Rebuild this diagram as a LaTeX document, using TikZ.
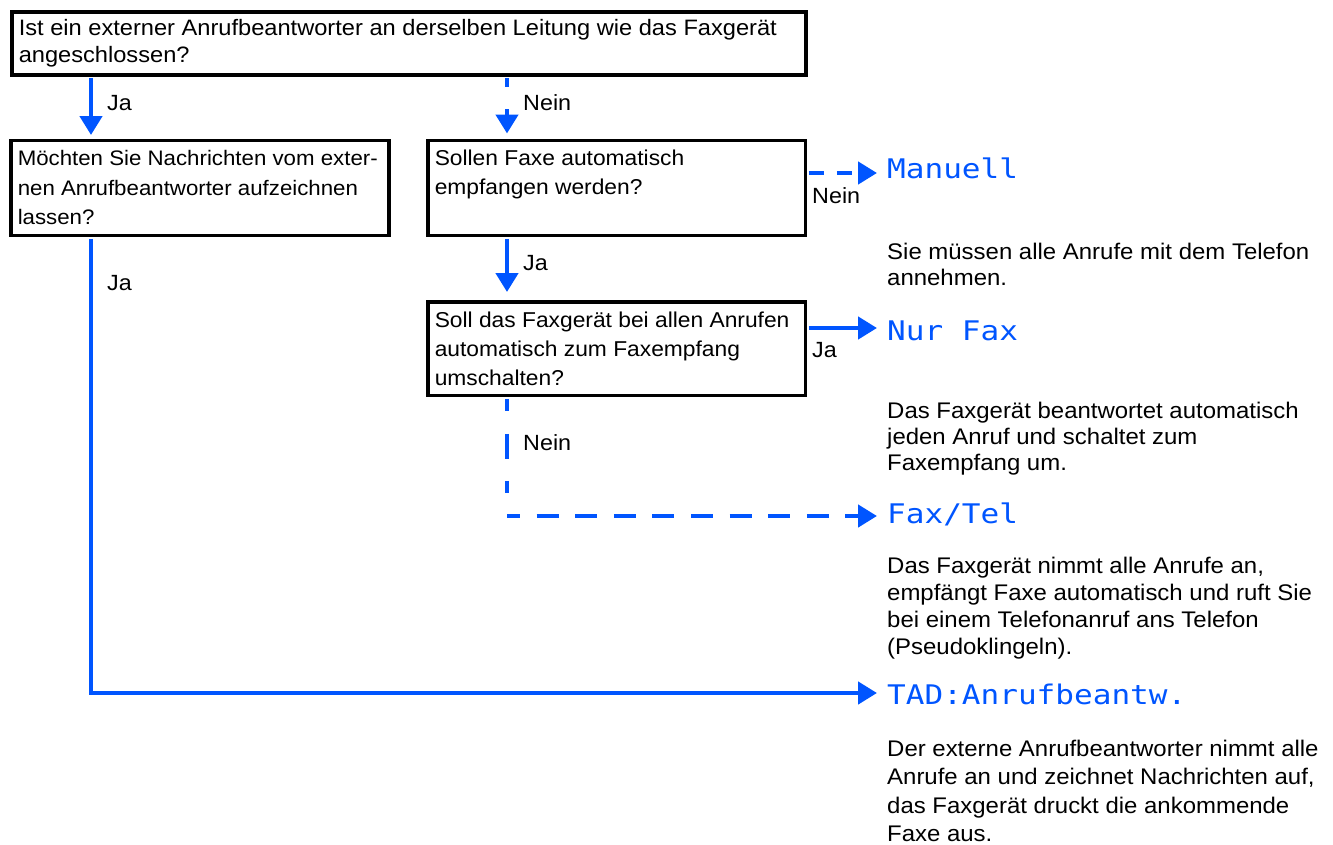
\documentclass[tikz,border=0pt]{standalone}
\usepackage{fontspec}
\setmainfont[FakeStretch=1.06]{Liberation Sans}
\newfontfamily\lcdfont[FakeStretch=1.15]{DejaVu Sans Mono}
\usetikzlibrary{arrows.meta}
\definecolor{fblue}{RGB}{0,85,255}
\newcommand{\qtext}[3]{\parbox[c][#2][t]{#1}{\raggedright\hfuzz=40pt\strut #3}}
\begin{document}
\begin{tikzpicture}[x=1pt,y=-1pt,
  qbox/.style={draw=black, line width=3.5pt, inner xsep=7pt, inner ysep=5pt, anchor=north west},
  boxfont/.style={font=\fontsize{21.5}{29}\selectfont},
  conn/.style={draw=fblue, line width=4.5pt, -{Triangle[length=19pt,width=22pt]}, shorten <=1.75pt},
  plainline/.style={draw=fblue, line width=4.5pt, shorten <=1.75pt},
  lbl/.style={anchor=base west, inner sep=0pt, font=\fontsize{22}{26}\selectfont},
  lcd/.style={anchor=base west, inner xsep=10pt, inner ysep=0pt, text=fblue, font=\lcdfont\fontsize{27}{30}\selectfont},
  desc/.style={anchor=north west, inner sep=0pt, align=left}
]
\useasboundingbox (0,0) rectangle (1333,844);

% question boxes
\node[qbox, font=\fontsize{22.3}{27}\selectfont] (q1) at (10,10)
  {\qtext{780pt}{53pt}{\mbox{Ist ein externer Anrufbeantworter an derselben Leitung wie das Faxgerät}\\angeschlossen?}};
\node[qbox, font=\fontsize{21}{29.5}\selectfont] (q2) at (9,138.5)
  {\qtext{364pt}{85pt}{\mbox{Möchten Sie Nachrichten vom exter-}\\\mbox{nen Anrufbeantworter aufzeichnen}\\lassen?}};
\node[qbox, boxfont] (q3) at (426,138.5)
  {\qtext{363.5pt}{85pt}{Sollen Faxe automatisch\\empfangen werden?}};
\node[qbox, boxfont] (q4) at (426,300)
  {\qtext{363.5pt}{83.5pt}{\mbox{Soll das Faxgerät bei allen Anrufen}\\automatisch zum Faxempfang\\umschalten?}};

% result settings
\node[lcd] (manuell) at (877,178) {Manuell};
\node[lcd] (nurfax) at (877,340) {Nur Fax};
\node[lcd] (faxtel) at (877,523) {Fax/Tel};
\node[lcd] (tad) at (877,704) {TAD:Anrufbeantw.};

% descriptions
\node[desc, font=\fontsize{22.6}{26}\selectfont] (d1) at (887,240.8)
  {\strut Sie müssen alle Anrufe mit dem Telefon\\annehmen.};
\node[desc, font=\fontsize{22.6}{26}\selectfont] (d2) at (887,400)
  {\strut Das Faxgerät beantwortet automatisch\\jeden Anruf und schaltet zum\\Faxempfang um.};
\node[desc, font=\fontsize{22.6}{26.8}\selectfont] (d3) at (887,554.8)
  {\strut Das Faxgerät nimmt alle Anrufe an,\\empfängt Faxe automatisch und ruft Sie\\bei einem Telefonanruf ans Telefon\\(Pseudoklingeln).};
\node[desc, font=\fontsize{22.6}{28.5}\selectfont] (d4) at (887,736)
  {\strut Der externe Anrufbeantworter nimmt alle\\Anrufe an und zeichnet Nachrichten auf,\\das Faxgerät druckt die ankommende\\Faxe aus.};

% helper coordinates
\coordinate (c1) at (91,693);
\coordinate (c2) at (507,516);

% connectors
\draw[conn, shorten >=3.5pt] (q1.south -| c1) -- (q2.north -| c1);
\draw[conn, shorten >=5pt, dash pattern=on 9pt off 22pt] (q1.south -| c2) -- (q3.north -| c2);
\draw[conn, shorten >=8pt] (q3.south -| c2) -- (q4.north -| c2);
\draw[conn, dash pattern=on 15pt off 13pt] (q3.east |- 0,173) -- (manuell.west |- 0,173);
\draw[conn] (q4.east |- 0,328) -- (nurfax.west |- 0,328);
\draw[plainline, dash pattern=on 12pt off 23pt on 25pt off 22pt on 12pt off 40pt] (q4.south -| c2) -- (c2);
\draw[conn, shorten <=0pt, dash pattern=on 22pt off 16.6pt, dash phase=9pt] (c2) -- (faxtel.west |- c2);
\draw[conn] (q2.south -| c1) -- (c1) -- (tad.west |- c1);

% labels
\node[lbl] (l1) at (107,110) {Ja};
\node[lbl] (l2) at (523,110) {Nein};
\node[lbl] (l3) at (107,290) {Ja};
\node[lbl] (l4) at (523,270) {Ja};
\node[lbl] (l5) at (812,203) {Nein};
\node[lbl] (l6) at (812,357) {Ja};
\node[lbl] (l7) at (523,450) {Nein};
\end{tikzpicture}
\end{document}
